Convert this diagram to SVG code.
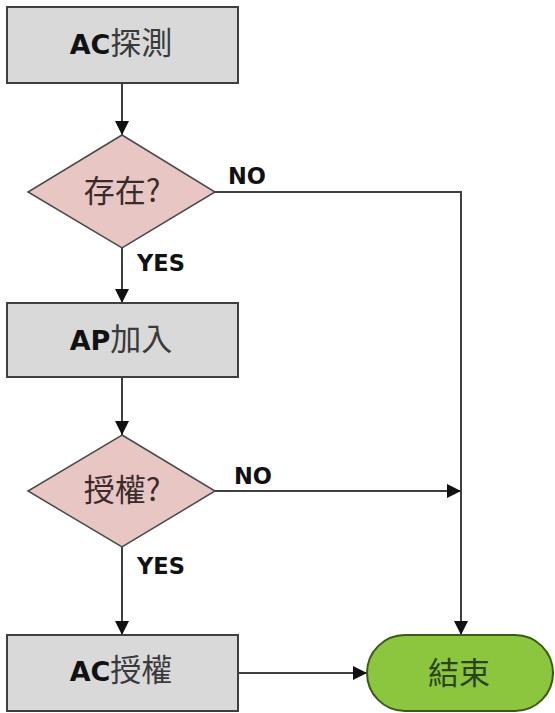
<svg xmlns="http://www.w3.org/2000/svg" width="555" height="713" viewBox="0 0 555 713">
<defs>
<style>
.box{fill:#d9d9d9;stroke:#3f3f3f;stroke-width:2}
.dia{fill:#e8c6c4;stroke:#4a4a4a;stroke-width:1.5}
.term{fill:#8cc63f;stroke:#3a5a1a;stroke-width:2}
.lat{font-family:"DejaVu Sans",Verdana,sans-serif;font-weight:bold;fill:#111}
.cjk{font-family:"Noto Sans CJK TC","Noto Sans CJK SC",sans-serif;font-weight:normal}
.lbl{font-family:"DejaVu Sans",Verdana,sans-serif;font-weight:bold;font-size:22.5px;fill:#111}
.ln{fill:none;stroke:#3f3f3f;stroke-width:2}
</style>
<marker id="ah" viewBox="0 0 14 14" refX="14" refY="7" markerWidth="14" markerHeight="14" markerUnits="userSpaceOnUse" orient="auto">
<path d="M0,0 L14,7 L0,14 Z" fill="#111"/>
</marker>
</defs>
<g id="connectors">
<path class="ln" d="M122,83 V135" marker-end="url(#ah)"/>
<path class="ln" d="M122,248 V303" marker-end="url(#ah)"/>
<path class="ln" d="M122,377 V435" marker-end="url(#ah)"/>
<path class="ln" d="M122,547 V635" marker-end="url(#ah)"/>
<path class="ln" d="M215,192 H461 V635" marker-end="url(#ah)"/>
<path class="ln" d="M215,491 H461" marker-end="url(#ah)"/>
<path class="ln" d="M238,673 H367" marker-end="url(#ah)"/>
<text class="lbl" x="228" y="184">NO</text>
<text class="lbl" x="137" y="271">YES</text>
<text class="lbl" x="234" y="484">NO</text>
<text class="lbl" x="137" y="574">YES</text>
</g>
<g id="n1">
<rect class="box" x="7" y="7" width="231" height="76"/>
<text x="121" y="54" text-anchor="middle"><tspan class="lat" font-size="27">AC</tspan><tspan class="cjk" font-size="31" fill="#3a3a3a">探測</tspan></text>
</g>
<g id="n2">
<polygon class="dia" points="122,135 215,192 122,248 28,192"/>
<text class="cjk" x="122" y="202" text-anchor="middle" font-size="31" fill="#3a2b2b">存在?</text>
</g>
<g id="n3">
<rect class="box" x="7" y="303" width="231" height="74"/>
<text x="121" y="350" text-anchor="middle"><tspan class="lat" font-size="27">AP</tspan><tspan class="cjk" font-size="31" fill="#3a3a3a">加入</tspan></text>
</g>
<g id="n4">
<polygon class="dia" points="122,435 215,491 122,547 28,491"/>
<text class="cjk" x="122" y="501" text-anchor="middle" font-size="31" fill="#3a2b2b">授權?</text>
</g>
<g id="n5">
<rect class="box" x="7" y="635" width="231" height="76"/>
<text x="121" y="681" text-anchor="middle"><tspan class="lat" font-size="27">AC</tspan><tspan class="cjk" font-size="31" fill="#3a3a3a">授權</tspan></text>
</g>
<g id="n6">
<rect class="term" x="367" y="635" width="186" height="76" rx="38" ry="38"/>
<text class="cjk" x="459" y="684" text-anchor="middle" font-size="31" fill="#2a4512">結束</text>
</g>
</svg>
